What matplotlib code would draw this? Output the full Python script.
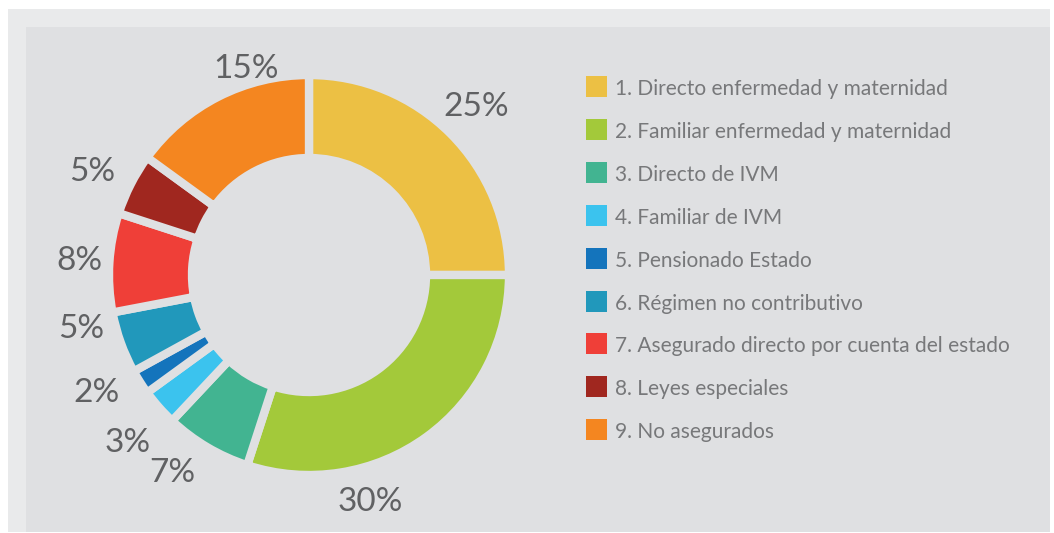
import matplotlib
matplotlib.use("Agg")
import matplotlib.pyplot as plt
import numpy as np
from matplotlib.patches import Rectangle

# Affiliation categories and their share of the population (%)
categories = [
    "1. Directo enfermedad y maternidad",
    "2. Familiar enfermedad y maternidad",
    "3. Directo de IVM",
    "4. Familiar de IVM",
    "5. Pensionado Estado",
    "6. Régimen no contributivo",
    "7. Asegurado directo por cuenta del estado",
    "8. Leyes especiales",
    "9. No asegurados",
]
shares = [25, 30, 7, 3, 2, 5, 8, 5, 15]

colors = ["#ecc044", "#a3c93a", "#42b491", "#3bc3ee", "#1474bc",
          "#2198bb", "#ef3f38", "#a0271f", "#f48620"]

# label placement: (angle nudge in degrees, radius in axes units)
label_place = [(0, 1.185), (21, 1.175), (4, 1.20), (-1.5, 1.235), (3.4, 1.215),
               (6.5, 1.17), (0, 1.15), (-1.6, 1.20), (10, 1.075)]

W, H = 1054, 533
FRAME = "#e9eaeb"
PANEL = "#dfe0e2"
PCT_INK = "#606163"
LEG_INK = "#77787a"
FONT = "Lato"

fig = plt.figure(figsize=(W / 100, H / 100), dpi=100)
fig.patch.set_facecolor("white")


def fx(px):
    return px / W


def fy(py):
    return (H - py) / H


# outer light frame and inner panel
fig.add_artist(Rectangle((fx(8), fy(532)), fx(1050) - fx(8), fy(9) - fy(532),
                         transform=fig.transFigure, facecolor=FRAME, edgecolor="none", zorder=0))
fig.add_artist(Rectangle((fx(26), fy(532)), fx(1050) - fx(26), fy(27) - fy(532),
                         transform=fig.transFigure, facecolor=PANEL, edgecolor="none", zorder=0))

# donut, centre at (309, 275) px, 200 px per axes unit
cx, cy, half = 309, 275, 200
ax = fig.add_axes([fx(cx - half), fy(cy + half), 2 * half / W, 2 * half / H])
ax.set_facecolor("none")
wedges, _ = ax.pie(
    shares,
    colors=colors,
    startangle=90,
    counterclock=False,
    radius=1.0,
    wedgeprops=dict(width=0.415, edgecolor=PANEL, linewidth=6.0),
)
ax.set_xlim(-1, 1)
ax.set_ylim(-1, 1)
ax.set_aspect("equal")
ax.axis("off")

# percentage labels around the ring
start = 0.0
for value, (nudge, rad) in zip(shares, label_place):
    mid = start + value / 100 * 360 / 2 + nudge
    theta = np.deg2rad(mid)
    ax.text(rad * np.sin(theta), rad * np.cos(theta), f"{value}%",
            ha="center", va="center", fontsize=24, color=PCT_INK,
            family=FONT, clip_on=False)
    start += value / 100 * 360

# legend
row0, step = 86.5, 42.9
for i, (name, col) in enumerate(zip(categories, colors)):
    yc = row0 + i * step
    fig.add_artist(Rectangle((fx(586), fy(yc + 10.5)), 21 / W, 21 / H,
                             transform=fig.transFigure, facecolor=col, edgecolor="none"))
    fig.text(fx(615), fy(yc + 8.5), name, ha="left", va="baseline",
             fontsize=15, color=LEG_INK, family=FONT)

fig.savefig("out.png", dpi=100, facecolor=fig.get_facecolor())
